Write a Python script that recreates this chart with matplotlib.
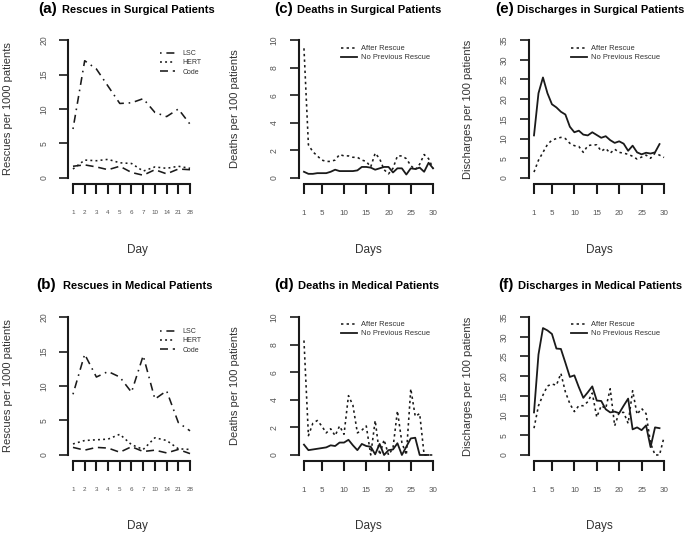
import numpy as np
import matplotlib.pyplot as plt

plt.rcParams['font.family'] = ['Liberation Sans', 'DejaVu Sans']

# ---- data ----
rescue_days = ['1', '2', '3', '4', '5', '6', '7', '10', '14', '21', '28']

surg_lsc = [7.1, 17.0, 15.8, 13.3, 10.8, 10.9, 11.5, 9.5, 8.9, 10.0, 7.8]
surg_hert = [1.3, 2.6, 2.5, 2.7, 2.2, 2.1, 1.0, 1.6, 1.4, 1.7, 1.4]
surg_code = [1.7, 1.9, 1.6, 1.2, 1.7, 0.8, 0.4, 1.2, 0.6, 1.3, 1.2]

med_lsc = [8.8, 14.6, 11.3, 12.1, 11.3, 9.1, 14.4, 8.1, 9.3, 4.7, 3.5]
med_hert = [1.6, 2.1, 2.2, 2.3, 3.0, 1.5, 0.8, 2.5, 2.1, 0.9, 0.8]
med_code = [1.1, 0.7, 1.1, 1.0, 0.4, 1.2, 0.5, 0.7, 0.3, 0.8, 0.2]

days = list(range(1, 31))

surg_death_after = [9.4, 2.4, 1.9, 1.6, 1.3, 1.2, 1.2, 1.3, 1.7, 1.6,
                    1.6, 1.5, 1.5, 1.3, 1.2, 0.8, 1.8, 1.4, 0.6, 0.3,
                    0.7, 1.6, 1.6, 1.4, 0.9, 0.6, 1.0, 1.7, 1.4, 0.7]
surg_death_none = [0.45, 0.3, 0.3, 0.35, 0.35, 0.35, 0.45, 0.6, 0.5, 0.5,
                   0.5, 0.5, 0.55, 0.8, 0.8, 0.75, 0.6, 0.7, 0.8, 0.8,
                   0.4, 0.7, 0.7, 0.25, 0.7, 0.65, 0.75, 0.45, 1.1, 0.7]

med_death_after = [8.3, 1.4, 2.3, 2.5, 2.1, 1.6, 1.9, 1.4, 2.1, 1.5,
                   4.3, 3.6, 1.6, 1.8, 2.1, 0.0, 2.5, 0.0, 1.1, 0.0,
                   0.5, 3.2, 0.9, 0.0, 4.8, 2.8, 3.0, 0.0, 0.0, 0.0]
med_death_none = [0.75, 0.35, 0.4, 0.45, 0.5, 0.55, 0.7, 0.65, 0.9, 0.9,
                  1.1, 0.7, 0.35, 0.8, 0.65, 0.6, 0.05, 0.8, 0.0, 0.35,
                  0.4, 0.85, 0.0, 0.6, 1.2, 1.25, 0.0, 0.0, 0.0]

surg_dis_after = [1.5, 4.5, 6.5, 8.5, 9.6, 10.0, 10.3, 10.0, 8.8, 8.2,
                  8.0, 6.5, 8.2, 8.4, 8.4, 6.8, 7.5, 6.3, 7.3, 6.5,
                  6.3, 6.0, 5.5, 4.8, 5.3, 5.8, 5.0, 6.3, 5.8, 5.2]
surg_dis_none = [10.8, 21.5, 25.5, 21.5, 18.7, 17.9, 16.8, 16.1, 13.0, 11.6,
                 12.0, 11.0, 10.8, 11.6, 10.9, 10.2, 10.6, 9.6, 8.9, 9.3,
                 8.7, 6.9, 8.2, 6.5, 6.0, 6.4, 6.2, 6.5, 8.6]

med_dis_after = [6.8, 12.5, 15.2, 17.5, 18.0, 17.7, 20.7, 16.0, 13.0, 11.0,
                 12.5, 12.5, 13.5, 15.7, 9.6, 12.5, 11.8, 16.8, 7.4, 10.8,
                 10.8, 8.0, 16.3, 10.3, 11.8, 10.5, 3.0, 0.0, 0.0, 4.5]
med_dis_none = [10.8, 25.5, 32.2, 31.6, 30.7, 27.0, 26.9, 23.4, 19.8, 20.2,
                17.2, 14.5, 15.9, 17.4, 13.8, 13.7, 11.6, 10.8, 11.0, 10.6,
                12.5, 14.3, 6.5, 7.0, 6.3, 7.5, 2.0, 7.0, 6.8]

W, H = 685, 534
fig = plt.figure(figsize=(W / 100, H / 100), dpi=100)

line_col = '#1a1a1a'
lab_col = '#333333'
tick_col = '#555555'

LSC_STYLE = (0, (1, 3, 5, 3))
HERT_STYLE = (0, (1.2, 2))
CODE_STYLE = (0, (5, 3))
AFTER_STYLE = (0, (1.5, 2))


def fx(px):
    return px / W


def fy(py):
    return 1 - py / H


def make_axes(left, right, top, bottom, xlo, xhi, ymax, xticks, xticklabels,
              yticks, xtick_size):
    ax = fig.add_axes([fx(left), fy(bottom), (right - left) / W, (bottom - top) / H])
    ext_x = (xhi - xlo) * 0.04
    ax.set_xlim(xlo - ext_x, xhi + ext_x)
    ax.set_ylim(-ymax * 0.04, ymax * 1.04)
    for s in ['top', 'right']:
        ax.spines[s].set_visible(False)
    ax.spines['left'].set_bounds(0, ymax)
    ax.spines['bottom'].set_bounds(xlo, xhi)
    for s in ['left', 'bottom']:
        ax.spines[s].set_linewidth(1.5)
        ax.spines[s].set_color(line_col)
    ax.set_xticks(xticks)
    ax.set_xticklabels(xticklabels, fontsize=xtick_size, color=tick_col)
    ax.set_yticks(yticks)
    ax.set_yticklabels([str(v) for v in yticks], fontsize=6.2, color=tick_col,
                       rotation=90, va='center')
    ax.tick_params(axis='x', length=7, width=1.5, color=line_col, pad=12)
    ax.tick_params(axis='y', length=6.5, width=1.2, color=line_col, pad=8)
    return ax


def add_title(letter_px, text_px, base_py, letter, text):
    fig.text(fx(letter_px), fy(base_py), letter, fontsize=11, fontweight='bold',
             va='baseline', ha='left')
    fig.text(fx(text_px), fy(base_py), text, fontsize=8, fontweight='bold',
             va='baseline', ha='left')


# geometry (pixels)
rows = [(34.5, 183.5), (311.5, 460.5)]
col_a = (68.3, 194.7)
col_c = (298.8, 438.2)
col_e = (528.8, 669.2)
pos = np.arange(1, len(rescue_days) + 1)
day_ticks = [1, 5, 10, 15, 20, 25, 30]

rescue_sets = [
    (rows[0], surg_lsc, surg_hert, surg_code, '(a)', 'Rescues in Surgical Patients', 13, (38, 62), 55),
    (rows[1], med_lsc, med_hert, med_code, '(b)', 'Rescues in Medical Patients', 289, (36, 63), 333),
]
for (top, bot), lsc, hert, code, letter, title, base, tx, leg_y in rescue_sets:
    ax = make_axes(col_a[0], col_a[1], top, bot, 1, 11, 20, pos, rescue_days,
                   [0, 5, 10, 15, 20], 4.5)
    ax.plot(pos, lsc, color=line_col, lw=1.15, linestyle=LSC_STYLE, label='LSC')
    ax.plot(pos, hert, color=line_col, lw=1.15, linestyle=HERT_STYLE, label='HERT')
    ax.plot(pos, code, color=line_col, lw=1.15, linestyle=CODE_STYLE, label='Code')
    leg = ax.legend(loc='upper left', bbox_to_anchor=(fx(160), fy(leg_y - 5)),
                    bbox_transform=fig.transFigure, frameon=False, fontsize=5,
                    handlelength=2.2, handletextpad=1.0, labelspacing=0.35,
                    borderpad=0, borderaxespad=0)
    for t in leg.get_texts():
        t.set_color(lab_col)
    add_title(tx[0], tx[1], base, letter, title)
    fig.text(fx(8), fy((top + bot) / 2), 'Rescues per 1000 patients', rotation=90,
             fontsize=8, color=lab_col, ha='center', va='center')
    fig.text(fx(137), fy(bot + 66), 'Day', fontsize=8.5, color=lab_col,
             ha='center', va='center')

outcome_sets = [
    (col_c, rows[0], surg_death_after, surg_death_none, 10, [0, 2, 4, 6, 8, 10],
     '(c)', 'Deaths in Surgical Patients', 13, (274, 297), 50, 341, 235, 'Deaths per 100 patients'),
    (col_c, rows[1], med_death_after, med_death_none, 10, [0, 2, 4, 6, 8, 10],
     '(d)', 'Deaths in Medical Patients', 289, (274, 298), 326, 341, 235, 'Deaths per 100 patients'),
    (col_e, rows[0], surg_dis_after, surg_dis_none, 35, [0, 5, 10, 15, 20, 25, 30, 35],
     '(e)', 'Discharges in Surgical Patients', 13, (495, 517), 50, 571, 468, 'Discharges per 100 patients'),
    (col_e, rows[1], med_dis_after, med_dis_none, 35, [0, 5, 10, 15, 20, 25, 30, 35],
     '(f)', 'Discharges in Medical Patients', 289, (498, 518), 326, 571, 468, 'Discharges per 100 patients'),
]
for col, (top, bot), after, none, ymax, yt, letter, title, base, tx, leg_y, leg_x, yl_x, ylab in outcome_sets:
    ax = make_axes(col[0], col[1], top, bot, 1, 30, ymax, day_ticks,
                   [str(d) for d in day_ticks], yt, 5.8)
    ax.plot(days[:len(after)], after, color=line_col, lw=1.15, linestyle=AFTER_STYLE,
            label='After Rescue')
    ax.plot(days[:len(none)], none, color=line_col, lw=1.3, linestyle='-',
            label='No Previous Rescue')
    leg = ax.legend(loc='upper left', bbox_to_anchor=(fx(leg_x), fy(leg_y - 5)),
                    bbox_transform=fig.transFigure, frameon=False, fontsize=5.4,
                    handlelength=2.1, handletextpad=0.55, labelspacing=0.25,
                    borderpad=0, borderaxespad=0)
    for t in leg.get_texts():
        t.set_color(lab_col)
    add_title(tx[0], tx[1], base, letter, title)
    fig.text(fx(yl_x), fy((top + bot) / 2), ylab, rotation=90,
             fontsize=8, color=lab_col, ha='center', va='center')
    fig.text(fx((col[0] + col[1]) / 2), fy(bot + 66), 'Days', fontsize=8.5,
             color=lab_col, ha='center', va='center')

fig.savefig('out.png', dpi=100)
